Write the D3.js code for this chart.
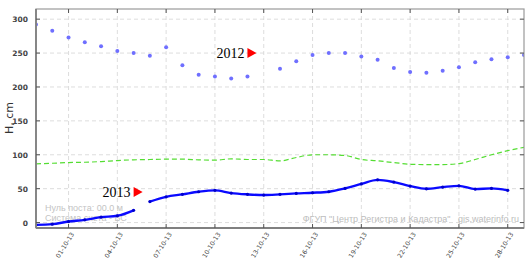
<!DOCTYPE html>
<html><head><meta charset="utf-8">
<script src="https://cdn.jsdelivr.net/npm/d3@7"></script>
<style>body{margin:0;background:#fff}svg{display:block}</style>
</head><body><svg id="c" width="532" height="261"></svg>
<script>
// ---- data ----
const startDate = "2013-09-29";
const endDate = "2013-10-29";
// 2012 levels, daily from 29-09 to 29-10 (null = no data)
const level2012 = [292,283,273,266,260,253,250,246,258.5,232,218,215.5,212.5,215.5,null,227,238,247,250,250,245,240,228,222,221,224,229,236.5,241,244,247];
// 2013 levels, first segment daily 29-09..05-10
const level2013a = [-3.4,-2.3,1.5,4,8,10,18];
// 2013 second segment daily 06-10..28-10
const level2013b = [31,38,41.6,45.5,47.5,43.5,41.6,40.6,41.6,43,44,45.5,50.4,57,63,59.7,53.8,49.8,52.3,54.2,49.4,50.4,47.5];
// long-term average, daily 29-09..29-10
const levelMean = [86.5,87.5,88.5,89,90,91.5,92.5,93,93.5,93.5,92.5,92,94,93,93,91,96,100,100,99,93,91,88.5,86,85.5,85.5,87,93,100,106,111];
const yTicks = [0,50,100,150,200,250,300];
const xTickDates = ["2013-10-01","2013-10-04","2013-10-07","2013-10-10","2013-10-13","2013-10-16","2013-10-19","2013-10-22","2013-10-25","2013-10-28"];
const yTitle = "H, cm";
const label2012 = "2012", label2013 = "2013";
const note1 = "Нуль поста: 00.0 м", note2 = "Система счета - БС";
const credit = "ФГУП \"Центр Регистра и Кадастра\"   gis.waterinfo.ru";

// ---- layout ----
const L=36,R=524,T=9,B=228;
const parse = d3.utcParse("%Y-%m-%d");
const day = d => d3.utcDay.offset(parse(startDate), d);
const x = d3.scaleUtc().domain([parse(startDate), parse(endDate)]).range([L,R]);
const y = d3.scaleLinear().domain([-8,315]).range([B,T]);
const svg = d3.select("#c");

svg.append("defs").append("clipPath").attr("id","clip")
  .append("rect").attr("x",L).attr("y",T).attr("width",R-L).attr("height",B-T);

// grid
const g = svg.append("g");
g.selectAll(".gy").data(yTicks).join("line")
  .attr("x1",L).attr("x2",R).attr("y1",d=>y(d)).attr("y2",d=>y(d))
  .attr("stroke","#d4d4d4").attr("stroke-dasharray","4,3").attr("stroke-width",0.8);
g.selectAll(".gx").data(xTickDates).join("line")
  .attr("x1",d=>x(parse(d))).attr("x2",d=>x(parse(d))).attr("y1",T).attr("y2",B)
  .attr("stroke","#d4d4d4").attr("stroke-dasharray","4,3").attr("stroke-width",0.8);

// watermark texts
svg.append("text").attr("x",45).attr("y",211).text(note1)
  .attr("font-family","Liberation Sans, Arial, sans-serif").attr("font-size",9).attr("fill","#c4c4c4");
svg.append("text").attr("x",45).attr("y",221).text(note2)
  .attr("font-family","Liberation Sans, Arial, sans-serif").attr("font-size",9).attr("fill","#c4c4c4");
svg.append("text").attr("x",519).attr("y",222).attr("text-anchor","end").text(credit)
  .attr("xml:space","preserve").style("white-space","pre")
  .attr("font-family","Liberation Sans, Arial, sans-serif").attr("font-size",9).attr("fill","#bdbdbd");

const plot = svg.append("g").attr("clip-path","url(#clip)");

// mean dashed line
const meanData = levelMean.map((v,i)=>({d:day(i),v}));
plot.append("path").datum(meanData)
  .attr("d", d3.line().x(p=>x(p.d)).y(p=>y(p.v)).curve(d3.curveMonotoneX))
  .attr("fill","none").attr("stroke","#55dd33").attr("stroke-width",1.2).attr("stroke-dasharray","5,3");

// 2013 line
const segA = level2013a.map((v,i)=>({d:day(i),v}));
const segB = level2013b.map((v,i)=>({d:day(i+level2013a.length),v}));
const line = d3.line().x(p=>x(p.d)).y(p=>y(p.v)).curve(d3.curveMonotoneX);
[segA,segB].forEach(seg=>{
  plot.append("path").datum(seg).attr("d",line)
    .attr("fill","none").attr("stroke","#0a0aff").attr("stroke-width",2.4);
  plot.selectAll(null).data(seg).join("circle")
    .attr("cx",p=>x(p.d)).attr("cy",p=>y(p.v)).attr("r",1.6).attr("fill","#0000cc");
});

// 2012 dots
const pts2012 = level2012.map((v,i)=>({d:day(i),v})).filter(p=>p.v!==null);
plot.selectAll(".p12").data(pts2012).join("circle")
  .attr("cx",p=>x(p.d)).attr("cy",p=>y(p.v)).attr("r",2)
  .attr("fill","#6f6fff");

// frame
svg.append("rect").attr("x",L).attr("y",T).attr("width",R-L).attr("height",B-T)
  .attr("fill","none").attr("stroke","#9a9a9a").attr("stroke-width",1.2);
svg.append("line").attr("x1",L).attr("x2",L).attr("y1",T).attr("y2",B)
  .attr("stroke","#808080").attr("stroke-width",1.8);
svg.append("line").attr("x1",L).attr("x2",R).attr("y1",B).attr("y2",B)
  .attr("stroke","#808080").attr("stroke-width",1.8);

// ticks
const tk = svg.append("g").attr("stroke","#555").attr("stroke-width",1);
yTicks.forEach(t=>{
  tk.append("line").attr("x1",L).attr("x2",L+4).attr("y1",y(t)).attr("y2",y(t));
  tk.append("line").attr("x1",R-4).attr("x2",R).attr("y1",y(t)).attr("y2",y(t));
});
xTickDates.forEach(t=>{
  const xx=x(parse(t));
  tk.append("line").attr("x1",xx).attr("x2",xx).attr("y1",B).attr("y2",B-4);
  tk.append("line").attr("x1",xx).attr("x2",xx).attr("y1",T).attr("y2",T+4);
});

// y labels
svg.selectAll(".yl").data(yTicks).join("text")
  .attr("x",28).attr("y",d=>y(d)+3).attr("text-anchor","end").text(d=>d)
  .attr("font-family","DejaVu Sans, sans-serif").attr("font-size",7.5).attr("font-weight","bold").attr("fill","#444");

// x labels
const fmt = d3.utcFormat("%d-%m-%y");
svg.selectAll(".xl").data(xTickDates).join("text")
  .attr("transform",d=>`translate(${x(parse(d))+4},${B+5}) rotate(-58)`)
  .attr("text-anchor","end").attr("dy","0.35em").text(d=>fmt(parse(d)))
  .attr("font-family","DejaVu Sans, sans-serif").attr("font-size",6.3).attr("fill","#444");

// y title
svg.append("text").attr("transform",`translate(13,118) rotate(-90)`).attr("text-anchor","middle")
  .text(yTitle).attr("font-family","DejaVu Sans, sans-serif").attr("font-size",11).attr("fill","#333");

// year labels
function yearLabel(txt, dateIdx, val){
  const xx = x(day(dateIdx)), yy = y(val);
  svg.append("text").attr("x",xx-3).attr("y",yy+5).attr("text-anchor","end").text(txt)
    .attr("font-family","Liberation Serif, Times New Roman, serif").attr("font-size",14).attr("fill","#000");
  svg.append("path").attr("d",`M${xx},${yy-5}L${xx+9},${yy}L${xx},${yy+5}Z`).attr("fill","#ff0000");
}
yearLabel(label2012, 13.2, 250);
yearLabel(label2013, 6.1, 45);
</script></body></html>
